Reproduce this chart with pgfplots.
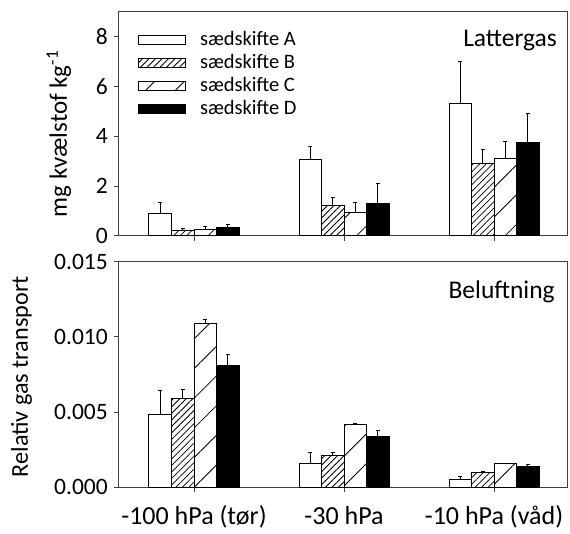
\documentclass[border=0pt]{standalone}
\usepackage{pgfplots}
\pgfplotsset{compat=1.18}
\usetikzlibrary{patterns.meta}
\usepackage{fontspec}
\setmainfont{Carlito}
\newcommand{\fs}[1]{\fontsize{#1}{#1}\selectfont}

\pgfplotsset{
  panel/.style={
    scale only axis, width=448.5pt,
    xmin=-0.5, xmax=2.49,
    ymin=0,
    axis line style={black!75, line width=1pt},
    xtick={0,1,2},
    xtick align=center, ytick align=outside,
    major tick length=5pt,
    tick style={black!75, line width=1pt},
    xtick pos=bottom, ytick pos=left,
    /pgf/number format/assume math mode=true,
    yticklabel style={font=\fs{23.5}, anchor=east, inner sep=0pt, xshift=-6pt},
    xticklabel style={font=\fs{26}, anchor=base, inner sep=0pt, yshift=-32pt},
    ylabel style={anchor=base},
    ybar, bar width=22.5pt,
    error bars/y dir=plus, error bars/y explicit,
    error bars/error bar style={black, line width=1pt},
    error bars/error mark options={rotate=90, mark size=2pt, black, line width=1pt},
    legend image code/.code={\draw[#1, line width=1pt] (0pt,-4.5pt) rectangle (47pt,4.5pt);},
  },
  serA/.style={draw=black, fill=white, line width=1pt, bar shift=-33.75pt},
  serB/.style={draw=black, line width=1pt, pattern={Lines[angle=45, distance=4.6pt, line width=0.8pt]}, bar shift=-11.25pt},
  serC/.style={draw=black, line width=1pt, pattern={Lines[angle=45, distance=21pt, line width=0.8pt]}, bar shift=11.25pt},
  serD/.style={draw=black, fill=black, line width=1pt, bar shift=33.75pt},
}

\begin{document}
\begin{tikzpicture}
\useasboundingbox (-119pt,-45.7pt) rectangle (451pt,487.3pt);

% bottom panel
\begin{axis}[panel,
  at={(0pt,0pt)}, anchor=south west, height=225.6pt,
  ymax=0.015,
  ytick={0,0.005,0.010,0.015},
  scaled y ticks=false,
  yticklabel style={/pgf/number format/.cd, fixed, fixed zerofill, precision=3},
  xticklabels={-100 hPa (tør), -30 hPa, -10 hPa (våd)},
  ylabel={Relativ gas transport},
  ylabel style={font=\fs{24.2}, at={(axis description cs:-0.203,0.49)}},
]
\addplot[serA] coordinates {(0,0.00484) +- (0,0.00157) (1,0.00159) +- (0,0.00071) (2,0.00049) +- (0,0.00022)};
\addplot[serB] coordinates {(0,0.00592) +- (0,0.00058) (1,0.00210) +- (0,0.00022) (2,0.00099) +- (0,0.00007)};
\addplot[serC] coordinates {(0,0.01087) +- (0,0.00029) (1,0.00418) +- (0,0.00004) (2,0.00157) +- (0,0.00002)};
\addplot[serD] coordinates {(0,0.00813) +- (0,0.00071) (1,0.00336) +- (0,0.00042) (2,0.00135) +- (0,0.00015)};
\node[font=\fs{25.5}, anchor=base east, inner sep=0pt] at (axis description cs:0.972,0.8356) {Beluftning};
\end{axis}

% top panel
\begin{axis}[panel,
  at={(0pt,251.3pt)}, anchor=south west, height=224.5pt,
  ymax=9,
  ytick={0,2,4,6,8},
  xticklabels={},
  ylabel={mg kvælstof kg\textsuperscript{-1}},
  ylabel style={font=\fs{25}, at={(axis description cs:-0.116,0.455)}},
  legend cell align=left,
  legend style={draw=none, fill=none, font=\fs{20.5}, inner sep=0pt, outer sep=0pt,
    at={(axis description cs:0.0424,0.9176)}, anchor=north west,
    row sep=3pt, column sep=14pt,
    nodes={inner sep=0pt, text height=15pt, text depth=5pt}},
]
\addplot[serA] coordinates {(0,0.91) +- (0,0.43) (1,3.07) +- (0,0.50) (2,5.31) +- (0,1.68)};
\addplot[serB] coordinates {(0,0.24) +- (0,0.08) (1,1.24) +- (0,0.32) (2,2.89) +- (0,0.59)};
\addplot[serC] coordinates {(0,0.27) +- (0,0.13) (1,0.96) +- (0,0.37) (2,3.12) +- (0,0.68)};
\addplot[serD] coordinates {(0,0.35) +- (0,0.10) (1,1.32) +- (0,0.80) (2,3.76) +- (0,1.16)};
\legend{sædskifte A, sædskifte B, sædskifte C, sædskifte D}
\node[font=\fs{25.5}, anchor=base east, inner sep=0pt] at (axis description cs:0.9766,0.843) {Lattergas};
\end{axis}
\end{tikzpicture}
\end{document}
